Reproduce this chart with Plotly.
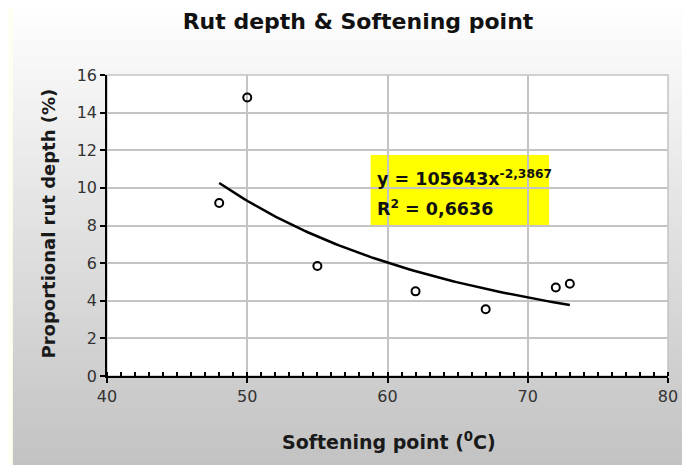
import numpy as np
import plotly.graph_objects as go

# ---- data ----
softening_point = [48, 50, 55, 62, 67, 72, 73]
rut_depth = [9.2, 14.8, 5.85, 4.5, 3.55, 4.7, 4.9]
fit_coef = 105643
fit_exp = -2.3867
r_squared = "0,6636"
x_ticks = [40, 50, 60, 70, 80]
y_ticks = [0, 2, 4, 6, 8, 10, 12, 14, 16]

# page is offset by the 8px body margin
OFF = 8
W, H = 690 - OFF, 465 - OFF
L, R, T, B = 99, 17, 67, 89
pw, ph = W - L - R, H - T - B


def px(x):  # page pixel x -> paper
    return (x - OFF - L) / pw


def py(y):  # page pixel y -> paper
    return (H - B - (y - OFF)) / ph


fig = go.Figure()

fig.add_trace(go.Scatter(
    x=softening_point, y=rut_depth, mode="markers",
    marker=dict(symbol="circle-open", size=8, color="black", line=dict(width=2, color="black")),
    showlegend=False, hoverinfo="x+y"))

xs = np.linspace(min(softening_point), max(softening_point), 100)
fig.add_trace(go.Scatter(
    x=xs, y=fit_coef * xs ** fit_exp, mode="lines",
    line=dict(color="black", width=2.5), showlegend=False, hoverinfo="skip"))

shapes = []
shapes.append(dict(type="rect", xref="paper", yref="paper", x0=px(OFF), x1=px(12), y0=py(OFF), y1=py(465),
                   fillcolor="#fffff0", line=dict(width=0), layer="below"))
step = 5
for y in range(OFF, 465, step):
    t = y / 465
    v = int(round(255 - (255 - 194) * t))
    c = f"rgb({v},{v},{v})"
    shapes.append(dict(type="rect", xref="paper", yref="paper", x0=px(12), x1=px(690),
                       y0=py(y), y1=py(min(y + step + 1, 465)), fillcolor=c, line=dict(width=0), layer="below"))
shapes.append(dict(type="rect", xref="paper", yref="paper", x0=0, x1=1, y0=0, y1=1,
                   fillcolor="white", line=dict(color="#c4c4c4", width=1.5), layer="below"))
shapes.append(dict(type="rect", xref="paper", yref="paper", x0=px(373), x1=px(553), y0=py(227), y1=py(155),
                   fillcolor="#ffff00", line=dict(width=0), layer="below"))

FONT = "DejaVu Sans, Verdana, sans-serif"
TXT = "#1a1a1a"

fig.update_layout(
    width=W, height=H,
    margin=dict(l=L, r=R, t=T, b=B),
    paper_bgcolor="white", plot_bgcolor="white",
    shapes=shapes,
    font=dict(family=FONT, color=TXT, size=16),
    title=dict(text="<b>Rut depth &amp; Softening point</b>", x=(358 - OFF) / W, xanchor="center",
               y=1 - (21 - OFF) / H, yanchor="middle", font=dict(size=22, color="#111111")),
    xaxis=dict(range=[40, 80], tickvals=x_ticks, showgrid=True, gridcolor="#c4c4c4", gridwidth=1.5,
               showline=True, linecolor="black", linewidth=1.5, ticks="outside", ticklen=5,
               tickcolor="black", tickwidth=1.5, zeroline=False,
               tickfont=dict(size=16, color="#333333"),
               minor=dict(dtick=1, ticks="inside", ticklen=4, tickcolor="black", tickwidth=1.5, showgrid=False)),
    yaxis=dict(range=[0, 16], tickvals=y_ticks, showgrid=True, gridcolor="#c4c4c4", gridwidth=1.5,
               showline=True, linecolor="black", linewidth=1.5, ticks="outside", ticklen=5,
               tickcolor="black", tickwidth=1.5, zeroline=False,
               tickfont=dict(size=16, color="#333333")),
    annotations=[
        dict(xref="paper", yref="paper", x=px(392), y=py(441), xanchor="center", yanchor="middle",
             text="<b>Softening point (<sup>0</sup>C)</b>", showarrow=False,
             font=dict(size=19, color=TXT)),
        dict(xref="paper", yref="paper", x=px(47), y=py(224), xanchor="center", yanchor="middle",
             text="<b>Proportional rut depth (%)</b>", showarrow=False, textangle=-90,
             font=dict(size=18, color=TXT)),
        dict(xref="paper", yref="paper", x=px(377), y=py(178), xanchor="left", yanchor="middle",
             text=f"<b>y = {fit_coef}x<sup>{str(fit_exp).replace('.', ',')}</sup></b>", showarrow=False,
             font=dict(size=17.5, color="#111111")),
        dict(xref="paper", yref="paper", x=px(377), y=py(208), xanchor="left", yanchor="middle",
             text=f"<b>R<sup>2</sup> = {r_squared}</b>", showarrow=False,
             font=dict(size=17.5, color="#111111")),
    ],
)

fig.write_html("out.html")
